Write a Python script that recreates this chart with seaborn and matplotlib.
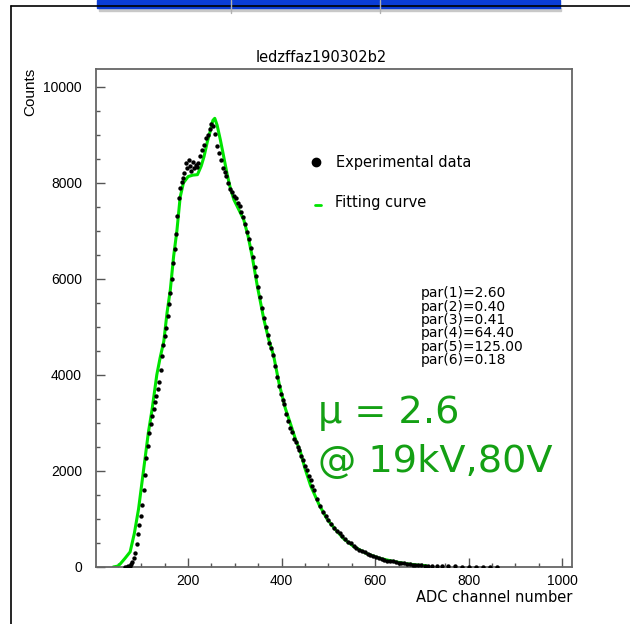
import matplotlib
matplotlib.use("Agg")
import matplotlib.pyplot as plt
import seaborn as sns
from matplotlib.ticker import MultipleLocator
from matplotlib.lines import Line2D
from matplotlib.patches import Rectangle

adc = [66, 69, 72, 75, 78, 81, 84, 87, 90, 93, 96, 99, 102, 105, 108, 111, 114, 117,
       120, 123, 126, 129, 132, 135, 138, 141, 144, 147, 150, 153, 156, 159, 162, 165,
       168, 171, 174, 177, 180, 183, 186, 189, 192, 195, 198, 201, 204, 207, 210, 213,
       216, 219, 222, 226, 230, 234, 238, 242, 246, 250, 254, 258, 262, 266, 270, 274,
       278, 282, 286, 290, 294, 298, 302, 306, 310, 314, 318, 322, 326, 330, 334, 338,
       342, 346, 350, 354, 358, 362, 366, 370, 374, 378, 382, 386, 390, 394, 398, 402,
       406, 410, 414, 418, 422, 426, 430, 434, 438, 442, 446, 450, 454, 458, 462, 466,
       470, 476, 482, 488, 494, 500, 506, 512, 518, 524, 530, 536, 542, 548, 554, 560,
       566, 572, 578, 584, 590, 596, 602, 608, 614, 620, 626, 632, 638, 644, 650, 656,
       662, 668, 674, 680, 686, 692, 698, 706, 714, 722, 732, 744, 756, 770, 785, 800,
       815, 830, 845, 860]
counts = [0, 5, 15, 30, 60, 100, 180, 300, 470, 680, 880, 1060, 1290, 1600, 1920, 2260,
          2520, 2790, 2980, 3150, 3300, 3440, 3560, 3700, 3860, 4100, 4390, 4620, 4800,
          4980, 5230, 5480, 5700, 5990, 6330, 6620, 6930, 7300, 7680, 7900, 8020, 8110,
          8200, 8420, 8300, 8480, 8350, 8240, 8440, 8300, 8380, 8330, 8420, 8560, 8690,
          8780, 8930, 8990, 9120, 9230, 9180, 9020, 8760, 8620, 8480, 8310, 8220, 8140,
          7990, 7870, 7810, 7720, 7690, 7590, 7510, 7390, 7290, 7140, 6970, 6820, 6640,
          6460, 6240, 6060, 5840, 5630, 5390, 5190, 5000, 4830, 4670, 4560, 4410, 4190,
          3960, 3760, 3610, 3470, 3390, 3190, 3040, 2890, 2810, 2670, 2610, 2490, 2430,
          2320, 2230, 2110, 2010, 1890, 1810, 1690, 1610, 1420, 1260, 1150, 1070, 980,
          900, 820, 750, 700, 640, 590, 530, 490, 440, 400, 360, 330, 305, 280, 250, 225,
          200, 185, 165, 150, 135, 125, 115, 105, 92, 84, 74, 66, 58, 52, 46, 41, 36, 31,
          27, 23, 20, 16, 13, 11, 9, 7, 6, 8, 5, 4]

# fitted curve
fit_x = [40, 50, 55, 65, 76, 85, 94, 105, 115, 123, 133, 140, 148, 155, 162, 169, 176,
         183, 190, 200, 210, 220, 228, 234, 241, 248, 253, 257, 262, 269, 276, 283, 290,
         298, 308, 319, 328, 337, 348, 362, 372, 383, 395, 408, 420, 430, 440, 450, 462,
         480, 497, 515, 533, 555, 583, 610, 640, 665, 690, 710]
fit_y = [0, 20, 66, 180, 315, 700, 1208, 2039, 2800, 3285, 4000, 4350, 4700, 5300, 5777,
         6469, 7000, 7700, 8000, 8130, 8160, 8170, 8350, 8546, 8850, 9101, 9300, 9343,
         9200, 8893, 8550, 8200, 7900, 7647, 7450, 7231, 6900, 6469, 5850, 5155, 4750,
         4393, 3800, 3300, 2950, 2650, 2400, 2050, 1693, 1300, 1001, 780, 586, 420, 274,
         180, 114, 70, 40, 25]

pars = ["2.60", "0.40", "0.41", "64.40", "125.00", "0.18"]

sns.set_style("white")
plt.rcParams['font.family'] = ['DejaVu Sans']
plt.rcParams['text.color'] = 'black'

W, H = 630, 624
def fx(px):
    return px / W
def fy(py):
    return 1 - py / H

fig = plt.figure(figsize=(6.3, 6.24), dpi=100)
ax = fig.add_axes([fx(96), fy(567), 476 / W, 498 / H])

sns.lineplot(x=fit_x, y=fit_y, ax=ax, color='#00e400', linewidth=2.2, sort=False, zorder=2)
sns.scatterplot(x=adc, y=counts, ax=ax, color='black', s=10, marker='o', linewidth=0, zorder=3)

ax.set_xlim(3, 1021)
ax.set_ylim(0, 10370)
ax.xaxis.set_major_locator(MultipleLocator(200))
ax.xaxis.set_minor_locator(MultipleLocator(50))
ax.yaxis.set_major_locator(MultipleLocator(2000))
ax.yaxis.set_minor_locator(MultipleLocator(500))
ax.tick_params(which='both', direction='in', bottom=True, left=True, top=False, right=False,
               color='#555555', width=1, labelcolor='black')
ax.tick_params(which='major', length=6.5)
ax.tick_params(which='minor', length=3.2)
ax.tick_params(axis='y', which='major', pad=10)
ax.tick_params(axis='x', which='major', pad=5)
for lab in ax.get_xticklabels() + ax.get_yticklabels():
    lab.set_fontfamily('Liberation Sans')
    lab.set_fontsize(10)
for sp in ax.spines.values():
    sp.set_color('#666666')
    sp.set_linewidth(1.3)
ax.set_xlabel('')
ax.set_ylabel('')

# titles and labels
fig.text(fx(321), fy(57), 'ledzffaz190302b2', ha='center', va='center', fontsize=10.5)
fig.text(fx(30), fy(68), 'Counts', rotation=90, ha='center', va='top',
         fontsize=11, family='Liberation Sans')
fig.text(fx(572), fy(598), 'ADC channel number', ha='right', va='center', fontsize=10.5)

# legend drawn by hand like the original
fig.add_artist(Line2D([fx(316)], [fy(162)], marker='o', markersize=6, color='black',
                      linestyle='none', transform=fig.transFigure))
fig.add_artist(Line2D([fx(315), fx(321)], [fy(205), fy(205)], color='#00e400', lw=2,
                      transform=fig.transFigure))
fig.text(fx(336), fy(163), 'Experimental data', ha='left', va='center', fontsize=10.5)
fig.text(fx(335), fy(203), 'Fitting curve', ha='left', va='center', fontsize=10.5)

for i, p in enumerate(pars):
    fig.text(fx(421), fy(293.3 + i * 13.3), f'par({i + 1})={p}', ha='left', va='center',
             fontsize=10)

fig.text(fx(318), fy(413), 'μ = 2.6', ha='left', va='center', fontsize=27.5, color='#14a014')
fig.text(fx(318), fy(462), '@ 19kV,80V', ha='left', va='center', fontsize=27.5, color='#14a014')

# page frame / header remnants from the screenshot
fig.add_artist(Line2D([fx(11), fx(11)], [0, fy(6)], color='black', lw=1.2, transform=fig.transFigure))
fig.add_artist(Line2D([fx(11), 1], [fy(6), fy(6)], color='black', lw=1.2, transform=fig.transFigure))
fig.add_artist(Rectangle((fx(99), fy(11)), (561 - 99) / W, 3 / H, color='#c8c8c8',
                         transform=fig.transFigure))
fig.add_artist(Rectangle((fx(97), fy(8)), (560 - 97) / W, 8 / H, color='#0b3dd6',
                         transform=fig.transFigure))
for gx in (231, 380):
    fig.add_artist(Line2D([fx(gx), fx(gx)], [fy(13), 1], color='#b0b0b0', lw=1,
                          transform=fig.transFigure))

fig.savefig('out.png', dpi=100)
